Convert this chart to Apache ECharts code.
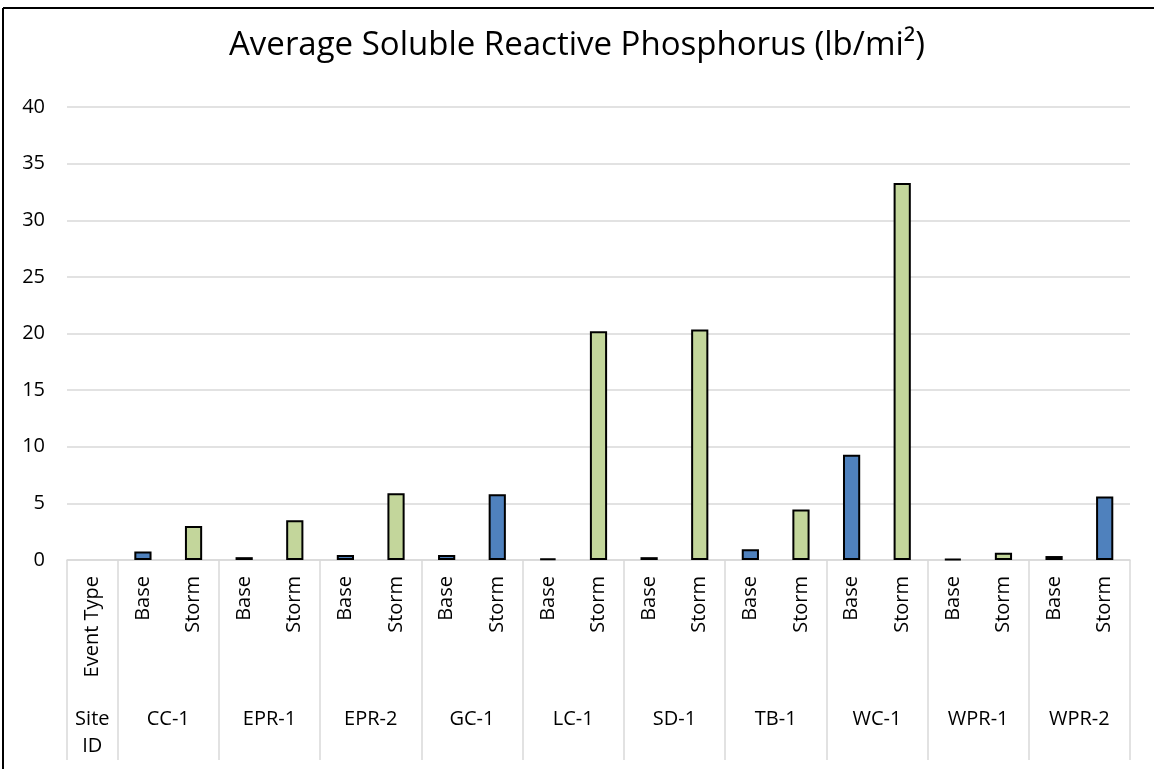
<!DOCTYPE html>
<html>
<head>
<meta charset="utf-8">
<script src="https://cdn.jsdelivr.net/npm/echarts@6/dist/echarts.min.js"></script>
<style>
  html, body { margin: 0; padding: 0; background: #fff; }
  #chart { width: 1154px; height: 769px; }
</style>
</head>
<body>
<div id="chart"></div>
<script>
const titleText = 'Average Soluble Reactive Phosphorus (lb/mi²)'
const sites = ['CC-1', 'EPR-1', 'EPR-2', 'GC-1', 'LC-1', 'SD-1', 'TB-1', 'WC-1', 'WPR-1', 'WPR-2']
const eventTypes = ['Base', 'Storm']
const baseValues = [0.75, 0.25, 0.45, 0.45, 0.15, 0.25, 0.95, 9.3, 0.1, 0.35]
const stormValues = [3.0, 3.5, 5.9, 5.8, 20.2, 20.35, 4.45, 33.3, 0.65, 5.6]
const yMin = 0
const yMax = 40
const yStep = 5

// these two storm bars are drawn in the base colour in the original
const blueStorm = ['GC-1', 'WPR-2']
const blue = '#4f81bd'
const green = '#c3d69b'
const font = 'Open Sans'

// one category per bar, plus the header column
const cats = ['Event Type']
const barData = [null]
sites.forEach((s, i) => {
  cats.push(eventTypes[0], eventTypes[1])
  barData.push({ value: baseValues[i], itemStyle: { color: blue } })
  barData.push({ value: stormValues[i], itemStyle: { color: blueStorm.includes(s) ? blue : green } })
})

// second row of labels: half-slot positions (header at 1, site i at 4 + 4i)
const siteLabelAt = { 1: 'Site\nID' }
sites.forEach((s, i) => { siteLabelAt[4 + 4 * i] = s })

// tick (divider) before the header, after it, and after each site pair
const dividerIdx = new Set([0, 1])
sites.forEach((s, i) => dividerIdx.add(3 + 2 * i))

const chart = echarts.init(document.getElementById('chart'))
chart.setOption({
  animation: false,
  title: {
    text: titleText,
    left: 'center',
    top: 24,
    textStyle: { fontFamily: font, fontSize: 33, fontWeight: 'normal', color: '#000' }
  },
  grid: { left: 67, right: 24, top: 107, bottom: 209 },
  xAxis: [
    {
      type: 'category',
      data: cats,
      axisLine: { lineStyle: { color: '#d9d9d9', width: 1.5 } },
      axisTick: {
        show: true,
        length: 200,
        interval: (idx) => dividerIdx.has(idx),
        lineStyle: { color: '#d9d9d9', width: 1.5 }
      },
      axisLabel: {
        interval: 0,
        rotate: 90,
        margin: 16,
        fontFamily: font,
        fontSize: 20,
        color: '#000'
      }
    },
    {
      type: 'value',
      position: 'bottom',
      min: 0,
      max: 42,
      interval: 1,
      axisLine: { show: false },
      axisTick: { show: false },
      splitLine: { show: false },
      axisLabel: {
        margin: 146,
        fontFamily: font,
        fontSize: 20,
        lineHeight: 27,
        color: '#000',
        showMinLabel: true,
        showMaxLabel: true,
        formatter: (v) => siteLabelAt[v] || ''
      }
    }
  ],
  yAxis: {
    type: 'value',
    min: yMin,
    max: yMax,
    interval: yStep,
    axisLine: { show: false },
    axisTick: { show: false },
    splitLine: { lineStyle: { color: '#d9d9d9', width: 1.5 } },
    axisLabel: { margin: 22, fontFamily: font, fontSize: 20, color: '#000' }
  },
  series: [
    {
      type: 'bar',
      xAxisIndex: 0,
      data: barData,
      barWidth: '34%',
      itemStyle: { borderColor: '#000', borderWidth: 2 }
    }
  ],
  graphic: [
    { type: 'line', shape: { x1: 3, y1: 8, x2: 1154, y2: 8 }, style: { stroke: '#000', lineWidth: 2 } },
    { type: 'line', shape: { x1: 3, y1: 8, x2: 3, y2: 769 }, style: { stroke: '#000', lineWidth: 2 } }
  ]
})
</script>
</body>
</html>
